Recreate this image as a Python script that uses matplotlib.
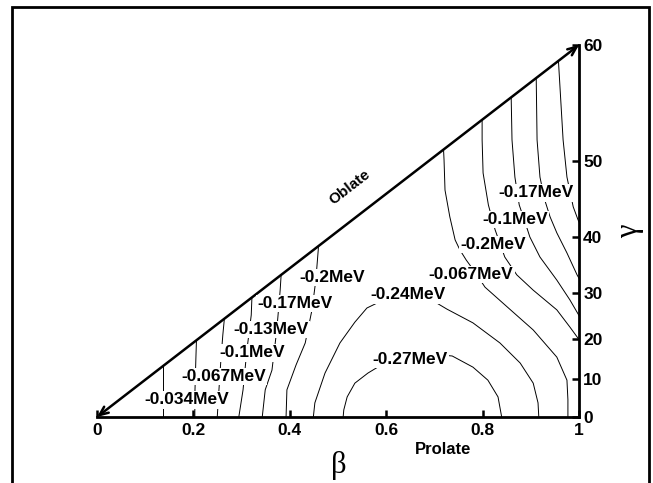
import numpy as np
import matplotlib
matplotlib.use('Agg')
import matplotlib.pyplot as plt
from matplotlib.patches import Polygon, Rectangle

plt.rcParams['font.family'] = ['Liberation Sans', 'DejaVu Sans']

# beta on x, h = tan(gamma)/tan(60) on y (height of the triangle = 1)
gamma_ticks = [0, 10, 20, 30, 40, 50, 60]
beta_ticks = [0, 0.2, 0.4, 0.6, 0.8, 1.0]
beta_ticklabels = ['0', '0.2', '0.4', '0.6', '0.8', '1']

# contour lines (beta, h)
line_034 = ([0.137, 0.137], [-0.01, 0.20])
line_067 = ([0.203, 0.203, 0.205, 0.207, 0.207], [-0.01, 0.059, 0.151, 0.234, 0.26])
line_100 = ([0.249, 0.253, 0.257, 0.261, 0.266], [-0.01, 0.073, 0.153, 0.220, 0.288])
line_130 = ([0.293, 0.303, 0.311, 0.320, 0.322], [-0.01, 0.073, 0.180, 0.274, 0.341])
line_170 = ([0.342, 0.349, 0.363, 0.373, 0.380, 0.384],
            [-0.01, 0.073, 0.126, 0.234, 0.341, 0.422])
line_200 = ([0.392, 0.394, 0.413, 0.432, 0.446, 0.454, 0.459, 0.461],
            [-0.01, 0.073, 0.140, 0.199, 0.288, 0.368, 0.449, 0.503])
line_240 = ([0.448, 0.452, 0.473, 0.504, 0.535, 0.560, 0.598, 0.645, 0.691, 0.726,
             0.780, 0.836, 0.878, 0.905, 0.915, 0.917],
            [-0.01, 0.038, 0.118, 0.199, 0.255, 0.293, 0.317, 0.328, 0.317, 0.290,
             0.253, 0.199, 0.145, 0.091, 0.038, -0.01])
line_270 = ([0.510, 0.512, 0.519, 0.535, 0.562, 0.604, 0.649, 0.695, 0.737, 0.780,
             0.811, 0.832, 0.840, 0.840],
            [-0.01, 0.019, 0.054, 0.091, 0.118, 0.151, 0.167, 0.169, 0.164, 0.134,
             0.099, 0.054, -0.003, -0.01])
line_200r = ([0.718, 0.720, 0.722, 0.732, 0.743, 0.753, 0.766, 0.784, 0.805, 0.851,
              0.905, 0.954, 0.975, 0.977, 0.977],
             [0.745, 0.691, 0.610, 0.538, 0.476, 0.449, 0.422, 0.390, 0.349, 0.296,
              0.234, 0.161, 0.099, 0.046, -0.01])
line_170r = ([0.799, 0.799, 0.801, 0.812, 0.826, 0.846, 0.871, 0.905, 0.954, 0.981, 1.008],
             [0.825, 0.745, 0.656, 0.570, 0.503, 0.430, 0.382, 0.341, 0.288, 0.242, 0.194])
line_130r = ([0.859, 0.861, 0.867, 0.876, 0.888, 0.898, 0.919, 0.954, 0.981, 1.008],
             [0.879, 0.745, 0.645, 0.570, 0.524, 0.484, 0.430, 0.368, 0.315, 0.255])
line_100r = ([0.911, 0.913, 0.919, 0.929, 0.940, 0.954, 0.975, 0.996, 1.008],
             [0.933, 0.745, 0.645, 0.583, 0.538, 0.495, 0.441, 0.382, 0.355])
line_067r = ([0.956, 0.967, 0.975, 0.988, 0.998, 1.008],
             [0.987, 0.745, 0.645, 0.565, 0.530, 0.503])

contour_lines = [line_034, line_067, line_100, line_130, line_170, line_200,
                 line_240, line_270, line_200r, line_170r, line_130r, line_100r, line_067r]

label_text = ['-0.034MeV', '-0.067MeV', '-0.1MeV', '-0.13MeV', '-0.17MeV', '-0.2MeV',
              '-0.24MeV', '-0.27MeV', '-0.067MeV', '-0.2MeV', '-0.1MeV', '-0.17MeV']
label_beta = [0.186, 0.262, 0.323, 0.362, 0.411, 0.487,
              0.646, 0.649, 0.776, 0.821, 0.867, 0.910]
label_h = [0.046, 0.109, 0.173, 0.235, 0.305, 0.375,
           0.328, 0.155, 0.383, 0.464, 0.531, 0.603]

W, H = 653, 483
fig = plt.figure(figsize=(W / 100, H / 100), dpi=100)
ax = fig.add_axes([97 / W, 66 / H, 482 / W, 372 / H])
ax.set_xlim(0, 1)
ax.set_ylim(0, 1)

tri = Polygon([(0, 0), (1, 0), (1, 1)], closed=True, transform=ax.transData,
              fill=False, edgecolor='none')
ax.add_patch(tri)

for xs, hs in contour_lines:
    ln, = ax.plot(xs, hs, color='black', lw=0.7)
    ln.set_clip_path(tri)

for s, bx, bh in zip(label_text, label_beta, label_h):
    ax.text(bx, bh, s, ha='center', va='center', fontsize=12.5, fontweight='bold',
            bbox=dict(boxstyle='square,pad=0.08', fc='white', ec='none'), zorder=5)

# hypotenuse (oblate edge)
ax.annotate('', xy=(0, 0), xytext=(1, 1), xycoords='data',
            arrowprops=dict(arrowstyle='<->,head_length=0.7,head_width=0.3',
                            lw=1.8, color='black', shrinkA=0, shrinkB=0,
                            mutation_scale=9), annotation_clip=False)

for side in ['top', 'left']:
    ax.spines[side].set_visible(False)
for side in ['bottom', 'right']:
    ax.spines[side].set_linewidth(2)

ax.set_xticks(beta_ticks)
ax.set_xticklabels(beta_ticklabels, fontweight='bold', fontsize=12.5)
ax.yaxis.tick_right()
ax.set_yticks(np.tan(np.radians(gamma_ticks)) / np.tan(np.radians(60)))
ax.set_yticklabels([str(g) for g in gamma_ticks], fontweight='bold', fontsize=12.5)
ax.tick_params(axis='x', direction='in', length=5, width=1.8, pad=4)
ax.tick_params(axis='y', direction='in', length=5, width=1.8, pad=3)

ax.text(0.525, 0.618, 'Oblate', rotation=37.7, rotation_mode='anchor',
        ha='center', va='center', fontsize=11, fontweight='bold')

fig.text(443 / W, 1 - 449 / H, 'Prolate', ha='center', va='center',
         fontsize=12, fontweight='bold')
fig.text(339 / W, 1 - 466 / H, 'β', ha='center', va='center', fontsize=22,
         family=['Liberation Serif', 'DejaVu Serif'])
fig.text(630 / W, 1 - 231 / H, 'γ', ha='center', va='center', fontsize=22,
         rotation=90, family=['Liberation Serif', 'DejaVu Serif'])

fig.patches.append(Rectangle((12 / W, -0.1), (649 - 12) / W, 1.1 - 7 / H,
                             transform=fig.transFigure, fill=False, lw=2,
                             ec='black'))

fig.savefig('out.png', dpi=100)
